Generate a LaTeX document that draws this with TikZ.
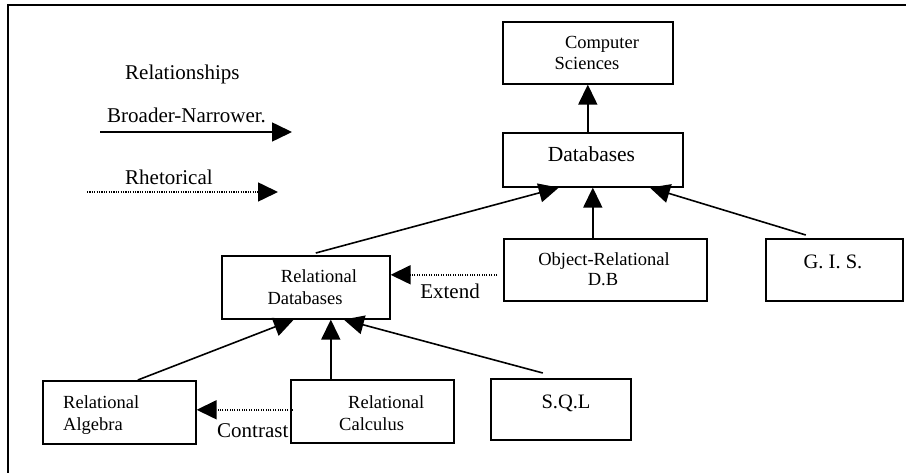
\documentclass[tikz,border=0pt]{standalone}
\usepackage{fontspec}
\setmainfont{Liberation Serif}
\usetikzlibrary{arrows.meta}
\begin{document}
\begin{tikzpicture}[x=1pt,y=-1pt,
  box/.style={draw,line width=1.6pt,inner sep=0pt,anchor=north west},
  bt/.style={font=\fontsize{18.5}{22}\selectfont,inner sep=0pt},
  bigt/.style={font=\fontsize{20.5}{24}\selectfont,inner sep=0pt},
  lt/.style={font=\fontsize{21}{25}\selectfont,inner sep=0pt},
  solidarrow/.style={line width=1.6pt,-{Triangle[length=20pt,width=19pt]}},
  dotarrow/.style={line width=1.6pt,dash pattern=on 1.1pt off 1.3pt,-{Triangle[length=20pt,width=19pt]}}
]
\useasboundingbox (0,0) rectangle (906,473);
\begin{scope}
\clip (0,0) rectangle (906,473);
\draw[line width=1.8pt] (8,480) -- (8,5) -- (912,5);
\end{scope}

% legend
\node[lt,anchor=base west] (relt) at (125,80) {Relationships};
\node[lt,anchor=base west] (bnt) at (107,123) {Broader-Narrower.};
\node[lt,anchor=base west] (rht) at (125,185) {Rhetorical};
\coordinate (bn1) at (100,132);
\coordinate (bn2) at (292,132);
\coordinate (rh1) at (87,192);
\coordinate (rh2) at (278,192);
\draw[solidarrow] (bn1) -- (bn2);
\draw[dotarrow] (rh1) -- (rh2);

% boxes
\node[box,minimum width=170pt,minimum height=62pt] (cs) at (502,21) {};
\node[box,minimum width=180pt,minimum height=54pt] (db) at (502,132) {};
\node[box,minimum width=168pt,minimum height=63pt] (rdb) at (221,255) {};
\node[box,minimum width=203pt,minimum height=62pt] (ordb) at (503,238) {};
\node[box,minimum width=137pt,minimum height=62pt] (gis) at (765,238) {};
\node[box,minimum width=153pt,minimum height=63pt] (alg) at (42,380) {};
\node[box,minimum width=163pt,minimum height=63pt] (calc) at (290,379) {};
\node[box,minimum width=140pt,minimum height=61pt] (sql) at (490,378) {};

% texts
\node[bt,anchor=base] (cs1) at (602,49) {Computer};
\node[bt,anchor=base] (cs2) at (587,70) {Sciences};
\node[font=\fontsize{21.5}{25}\selectfont,inner sep=0pt,anchor=base] (dbt) at (591.5,162) {Databases};
\node[bt,anchor=base] (rdb1) at (319,283) {Relational};
\node[bt,anchor=base] (rdb2) at (305,305) {Databases};
\node[bt,anchor=base] (ordb1) at (604,266) {Object-Relational};
\node[bt,anchor=base] (ordb2) at (603,286) {D.B};
\node[bigt,anchor=base] (gist) at (833,269) {G. I. S.};
\node[bt,anchor=base west] (alg1) at (63,408) {Relational};
\node[bt,anchor=base west] (alg2) at (63,430) {Algebra};
\node[bt,anchor=base west] (calc1) at (348,408) {Relational};
\node[bt,anchor=base west] (calc2) at (339,430) {Calculus};
\node[bigt,anchor=base] (sqlt) at (566,408) {S.Q.L};
\node[lt,anchor=base] (ext) at (450,299) {Extend};
\node[lt,anchor=base west] (cont) at (217,437) {Contrast};

% broader-narrower connectors
\draw[solidarrow] (db.north -| cs.south) -- (cs.south);
\draw[solidarrow] ([xshift=10pt,yshift=2pt]rdb.north) -- ([xshift=-34pt]db.south);
\draw[solidarrow] (ordb.north -| db.south) -- (db.south);
\draw[solidarrow] ([xshift=-28.5pt,yshift=3pt]gis.north) -- ([xshift=57pt]db.south);
\draw[solidarrow] ([xshift=18.5pt]alg.north) -- ([xshift=-12pt]rdb.south);
\coordinate (ctip) at ([xshift=25pt]rdb.south);
\draw[solidarrow] (calc.north -| ctip) -- (ctip);
\draw[solidarrow] ([xshift=-18pt,yshift=5pt]sql.north) -- ([xshift=38pt]rdb.south);

% rhetorical connectors
\coordinate (es) at ([xshift=-6pt,yshift=-5pt]ordb.west);
\draw[dotarrow] (es) -- (es -| rdb.east);
\coordinate (cst) at ([xshift=3pt,yshift=1.5pt]calc.west);
\draw[dotarrow] (cst) -- (cst -| alg.east);
\end{tikzpicture}
\end{document}
